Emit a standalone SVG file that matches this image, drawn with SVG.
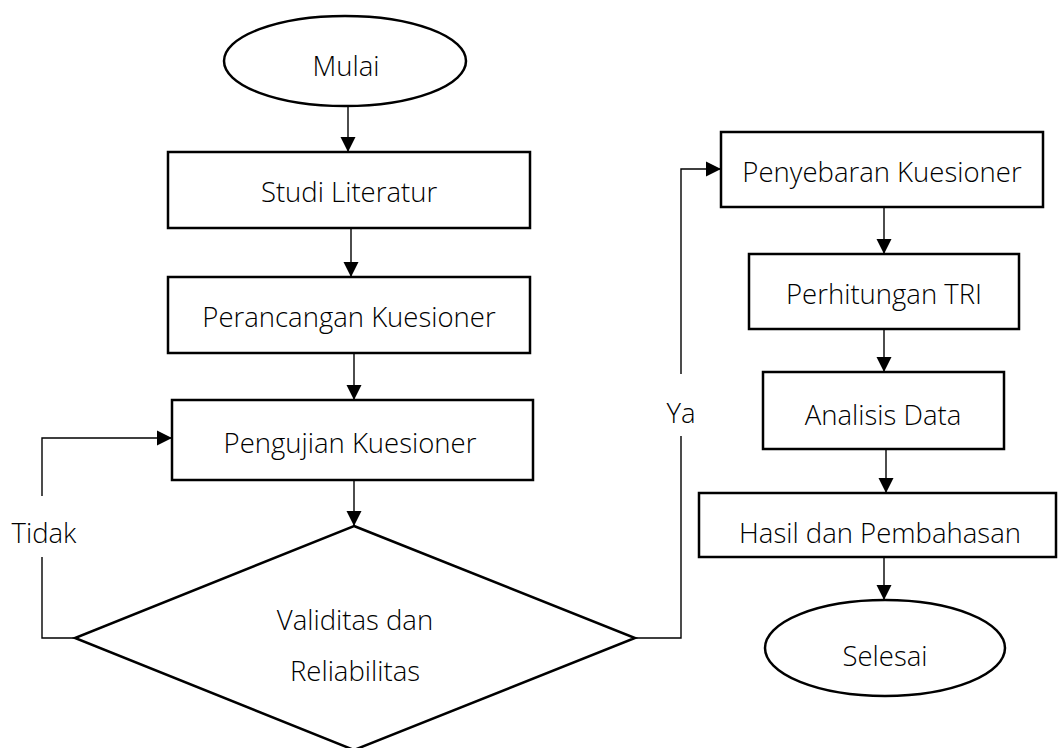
<svg xmlns="http://www.w3.org/2000/svg" width="1058" height="748" viewBox="0 0 1058 748">
<style>
.shape{fill:#fff;stroke:#000;stroke-width:2.5}
.conn{fill:none;stroke:#000;stroke-width:1.4}
text{font-family:"Open Sans","Noto Sans","DejaVu Sans",sans-serif;font-size:27.5px;font-weight:300;fill:#000;text-anchor:middle}
</style>
<defs>
<marker id="ah" markerUnits="userSpaceOnUse" markerWidth="16" markerHeight="16" viewBox="0 0 16 16" refX="15" refY="8" orient="auto">
<path d="M0,0.5 L15,8 L0,15.5 Z" fill="#000"/>
</marker>
</defs>
<g id="connectors">
<line class="conn" x1="348" y1="106" x2="348" y2="152" marker-end="url(#ah)"/>
<line class="conn" x1="351" y1="229" x2="351" y2="277" marker-end="url(#ah)"/>
<line class="conn" x1="354" y1="354" x2="354" y2="400" marker-end="url(#ah)"/>
<line class="conn" x1="354" y1="481" x2="354" y2="526" marker-end="url(#ah)"/>
<polyline class="conn" points="75,638 42,638 42,557"/>
<polyline class="conn" points="42,496 42,438 172,438" marker-end="url(#ah)"/>
<polyline class="conn" points="636,638 681,638 681,436"/>
<polyline class="conn" points="681,374 681,169 721,169" marker-end="url(#ah)"/>
<line class="conn" x1="884" y1="207" x2="884" y2="254" marker-end="url(#ah)"/>
<line class="conn" x1="884" y1="329" x2="884" y2="372" marker-end="url(#ah)"/>
<line class="conn" x1="886" y1="449" x2="886" y2="493" marker-end="url(#ah)"/>
<line class="conn" x1="884" y1="557" x2="884" y2="600" marker-end="url(#ah)"/>
<text x="44" y="543">Tidak</text>
<text x="681" y="423">Ya</text>
</g>
<g id="mulai">
<ellipse class="shape" cx="345" cy="61" rx="121" ry="45"/>
<text x="346" y="76">Mulai</text>
</g>
<g id="studi-literatur">
<rect class="shape" x="168" y="152" width="362" height="76"/>
<text x="349" y="202">Studi Literatur</text>
</g>
<g id="perancangan-kuesioner">
<rect class="shape" x="168" y="277" width="362" height="76"/>
<text x="349" y="327">Perancangan Kuesioner</text>
</g>
<g id="pengujian-kuesioner">
<rect class="shape" x="172" y="400" width="361" height="80"/>
<text x="350" y="453">Pengujian Kuesioner</text>
</g>
<g id="validitas-reliabilitas">
<polygon class="shape" points="354,526 635,638 354,750 75,638"/>
<text x="355" y="630">Validitas dan</text>
<text x="355" y="681">Reliabilitas</text>
</g>
<g id="penyebaran-kuesioner">
<rect class="shape" x="721" y="132" width="322" height="75"/>
<text x="882" y="182">Penyebaran Kuesioner</text>
</g>
<g id="perhitungan-tri">
<rect class="shape" x="749" y="254" width="270" height="75"/>
<text x="884" y="304">Perhitungan TRI</text>
</g>
<g id="analisis-data">
<rect class="shape" x="763" y="372" width="241" height="77"/>
<text x="883" y="425">Analisis Data</text>
</g>
<g id="hasil-pembahasan">
<rect class="shape" x="699" y="493" width="357" height="64"/>
<text x="880" y="543">Hasil dan Pembahasan</text>
</g>
<g id="selesai">
<ellipse class="shape" cx="885" cy="648" rx="120" ry="48"/>
<text x="885" y="666">Selesai</text>
</g>
</svg>
